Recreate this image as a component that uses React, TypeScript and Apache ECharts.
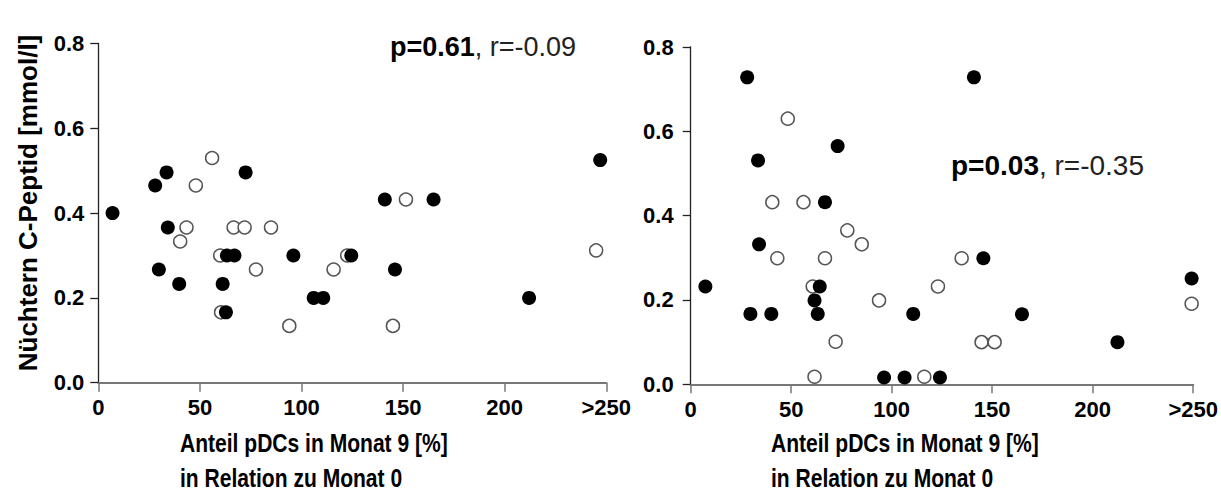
import React, { useEffect, useRef } from "react";
import * as echarts from "echarts";

const xTicks = [0, 50, 100, 150, 200, 250];
const xTickLabels = ["0", "50", "100", "150", "200", ">250"];

const leftFilledX = [7, 28, 33.6, 34.2, 29.8, 39.8, 72.5, 61.2, 62.8, 63.3, 67, 96, 106, 110.7, 124.5, 141, 165, 146, 212, 247];
const leftFilledY = [0.40, 0.465, 0.496, 0.366, 0.267, 0.233, 0.496, 0.233, 0.166, 0.30, 0.30, 0.30, 0.20, 0.20, 0.30, 0.432, 0.432, 0.267, 0.20, 0.525];

const leftOpenX = [56, 48, 43.4, 40.3, 66.6, 72, 85, 60, 77.6, 60.4, 94, 115.8, 122.5, 151.4, 145, 245];
const leftOpenY = [0.53, 0.465, 0.366, 0.333, 0.366, 0.366, 0.366, 0.30, 0.267, 0.166, 0.134, 0.267, 0.30, 0.432, 0.134, 0.312];

const rightFilledX = [7.3, 28.1, 33.5, 34, 29.7, 40.1, 73.1, 66.8, 64.2, 61.6, 63.2, 96.2, 106.4, 110.7, 124, 140.9, 145.6, 164.8, 212.3, 249.2];
const rightFilledY = [0.232, 0.728, 0.531, 0.332, 0.167, 0.167, 0.565, 0.432, 0.232, 0.199, 0.167, 0.016, 0.016, 0.167, 0.016, 0.728, 0.299, 0.166, 0.1, 0.251];

const rightOpenX = [48.3, 40.6, 56.1, 77.9, 85.1, 43.1, 66.8, 60.7, 93.7, 72.1, 61.6, 116.2, 123, 134.8, 144.7, 151.2, 249.2];
const rightOpenY = [0.63, 0.432, 0.432, 0.365, 0.332, 0.299, 0.299, 0.232, 0.199, 0.101, 0.018, 0.018, 0.232, 0.299, 0.1, 0.1, 0.191];

const yAxisTitle = "Nüchtern C-Peptid [mmol/l]";
const xTitle1 = "Anteil pDCs in Monat 9 [%]";
const xTitle2 = "in Relation zu Monat 0";
const leftStat = { p: "p=0.61", r: ", r=-0.09" };
const rightStat = { p: "p=0.03", r: ", r=-0.35" };

const FONT = "'Liberation Sans', Arial, sans-serif";

const zip = (xs: number[], ys: number[]) => xs.map((x, i) => [x, ys[i]]);

export default function App() {
  const ref = useRef<HTMLDivElement>(null);
  useEffect(() => {
    document.body.style.margin = "0";
    if (!ref.current) return;
    const chart = echarts.init(ref.current, undefined, { renderer: "svg" });

    const xAxisBase = (gridIndex: number) => ({
      type: "value",
      gridIndex,
      min: 0,
      max: 250,
      interval: 50,
      axisLine: { show: true, lineStyle: { color: "#777", width: 2 } },
      axisTick: { show: true, length: 9, inside: false, lineStyle: { color: "#777", width: 1.5 } },
      axisLabel: {
        margin: 14,
        fontFamily: FONT,
        fontWeight: "bold",
        fontSize: 22,
        color: "#000",
        formatter: (v: number) => {
          const i = xTicks.indexOf(v);
          return i >= 0 ? xTickLabels[i] : "";
        },
      },
      splitLine: { show: false },
    });

    const yAxisBase = (gridIndex: number, margin: number) => ({
      type: "value",
      gridIndex,
      min: 0,
      max: 0.8,
      interval: 0.2,
      axisLine: { show: true, lineStyle: { color: "#222", width: 1.3 } },
      axisTick: { show: true, length: 8, lineStyle: { color: "#222", width: 1.3 } },
      axisLabel: {
        margin,
        fontFamily: FONT,
        fontWeight: "bold",
        fontSize: 22,
        color: "#000",
        formatter: (v: number) => v.toFixed(1),
      },
      splitLine: { show: false },
    });

    const openStyle = {
      color: "#fff",
      borderColor: "#555",
      borderWidth: 1.5,
      opacity: 1,
    };
    const filledStyle = { color: "#000", opacity: 1 };

    const titleStyle = { fontFamily: FONT, fontWeight: "bold", fontSize: 26, fill: "#000" };
    const statRich = (size: number) => ({
      b: { fontFamily: FONT, fontWeight: "bold", fontSize: size, fill: "#000" },
      n: { fontFamily: FONT, fontWeight: "normal", fontSize: size, fill: "#222" },
    });

    chart.setOption({
      animation: false,
      grid: [
        { left: 98.3, top: 43.5, width: 508, height: 339.2 },
        { left: 690.7, top: 47, width: 507.6, height: 337.3 },
      ],
      xAxis: [xAxisBase(0), xAxisBase(1)],
      yAxis: [yAxisBase(0, 14), yAxisBase(1, 17)],
      series: [
        { type: "scatter", xAxisIndex: 0, yAxisIndex: 0, symbol: "circle", symbolSize: 13, itemStyle: openStyle, data: zip(leftOpenX, leftOpenY), z: 2 },
        { type: "scatter", xAxisIndex: 0, yAxisIndex: 0, symbol: "circle", symbolSize: 14, itemStyle: filledStyle, data: zip(leftFilledX, leftFilledY), z: 3 },
        { type: "scatter", xAxisIndex: 1, yAxisIndex: 1, symbol: "circle", symbolSize: 13, itemStyle: openStyle, data: zip(rightOpenX, rightOpenY), z: 2 },
        { type: "scatter", xAxisIndex: 1, yAxisIndex: 1, symbol: "circle", symbolSize: 14, itemStyle: filledStyle, data: zip(rightFilledX, rightFilledY), z: 3 },
      ],
      graphic: [
        {
          type: "text",
          x: 28,
          y: 203,
          rotation: Math.PI / 2,
          style: {
            text: yAxisTitle,
            fontFamily: FONT,
            fontWeight: "bold",
            fontSize: 26,
            fill: "#000",
            align: "center",
            verticalAlign: "middle",
          },
        },
        { type: "text", x: 180, y: 443, scaleX: 0.81, style: { text: xTitle1, ...titleStyle, verticalAlign: "middle" } },
        { type: "text", x: 180, y: 478, scaleX: 0.81, style: { text: xTitle2, ...titleStyle, verticalAlign: "middle" } },
        { type: "text", x: 771, y: 443, scaleX: 0.81, style: { text: xTitle1, ...titleStyle, verticalAlign: "middle" } },
        { type: "text", x: 771, y: 478, scaleX: 0.81, style: { text: xTitle2, ...titleStyle, verticalAlign: "middle" } },
        {
          type: "text",
          x: 390,
          y: 47,
          style: { text: `{b|${leftStat.p}}{n|${leftStat.r}}`, rich: statRich(27), verticalAlign: "middle" },
        },
        {
          type: "text",
          x: 951,
          y: 165,
          style: { text: `{b|${rightStat.p}}{n|${rightStat.r}}`, rich: statRich(28), verticalAlign: "middle" },
        },
      ],
    });
    return () => chart.dispose();
  }, []);
  return <div ref={ref} style={{ width: 1221, height: 493 }} />;
}
